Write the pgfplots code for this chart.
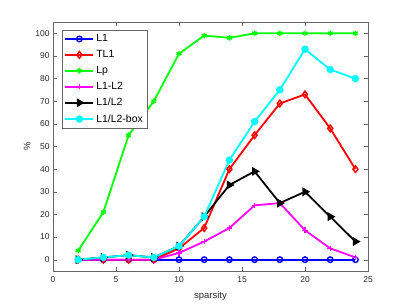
\documentclass[border=0pt]{standalone}
\usepackage{pgfplots}
\pgfplotsset{compat=1.18}
\usepackage{fontspec}
\setmainfont{Liberation Sans}
\definecolor{mgreen}{RGB}{0,255,0}
\definecolor{mcyan}{RGB}{0,255,255}
\definecolor{mmag}{RGB}{255,0,255}
\begin{document}
\begin{tikzpicture}
\begin{axis}[
  at={(0,0)}, anchor=south west,
  scale only axis, width=315bp, height=249bp,
  xmin=0, xmax=25, ymin=-5, ymax=105,
  xtick={0,5,10,15,20,25}, ytick={0,10,...,100},
  tick align=inside,
  axis line style={draw=black!60},
  major tick style={draw=black!60},
  tick label style={font=\fontsize{8.5}{10}\selectfont, text=black!85},
  xticklabel style={yshift=-2bp},
  /pgf/number format/assume math mode=true,
  xlabel={sparsity}, ylabel={\%},
  label style={font=\fontsize{9.5}{11}\selectfont, text=black!85},
  xlabel style={yshift=-2bp},
  ylabel style={yshift=-2bp},
  legend style={at={(rel axis cs:0.028,0.968)}, anchor=north west, font=\fontsize{10.5}{12}\selectfont, draw=black!60, row sep=3.2pt, inner sep=2.5pt},
  legend cell align=left,
  legend image code/.code={\draw[mark repeat=2,mark phase=2,#1] plot coordinates {(0bp,0bp) (14bp,0bp) (28bp,0bp)};},
]
\addplot[blue, line width=1.8pt, mark=o, mark size=2.8pt, mark options={line width=1.4pt}] coordinates {(2,0)(4,0)(6,0)(8,0)(10,0)(12,0)(14,0)(16,0)(18,0)(20,0)(22,0)(24,0)};
\addlegendentry{L1}
\addplot[red, line width=1.8pt, mark=diamond, mark size=3.4pt, mark options={line width=1.4pt}] coordinates {(2,0)(4,0)(6,0)(8,0)(10,5)(12,14)(14,40)(16,55)(18,69)(20,73)(22,58)(24,40)};
\addlegendentry{TL1}
\addplot[mgreen, line width=1.8pt, mark=asterisk, mark size=2.8pt, mark options={line width=1.4pt}] coordinates {(2,4)(4,21)(6,55)(8,70)(10,91)(12,99)(14,98)(16,100)(18,100)(20,100)(22,100)(24,100)};
\addlegendentry{Lp}
\addplot[color=mmag, line width=1.8pt, mark=+, mark size=2.8pt, mark options={line width=1.4pt, draw=mmag}] coordinates {(2,0)(4,0)(6,0)(8,0)(10,3)(12,8)(14,14)(16,24)(18,25)(20,13)(22,5)(24,1)};
\addlegendentry{L1-L2}
\addplot[black, line width=1.8pt, mark=triangle*, mark size=3.4pt, mark options={rotate=-90}] coordinates {(2,0)(4,1)(6,2)(8,1)(10,6)(12,19)(14,33)(16,39)(18,25)(20,30)(22,19)(24,8)};
\addlegendentry{L1/L2}
\addplot[mcyan, line width=1.8pt, mark=*, mark size=2.8pt] coordinates {(2,0)(4,1)(6,2)(8,1)(10,6)(12,19)(14,44)(16,61)(18,75)(20,93)(22,84)(24,80)};
\addlegendentry{L1/L2-box}
\end{axis}
\useasboundingbox (-53bp,-34bp) rectangle (354bp,271bp);
\end{tikzpicture}
\end{document}
